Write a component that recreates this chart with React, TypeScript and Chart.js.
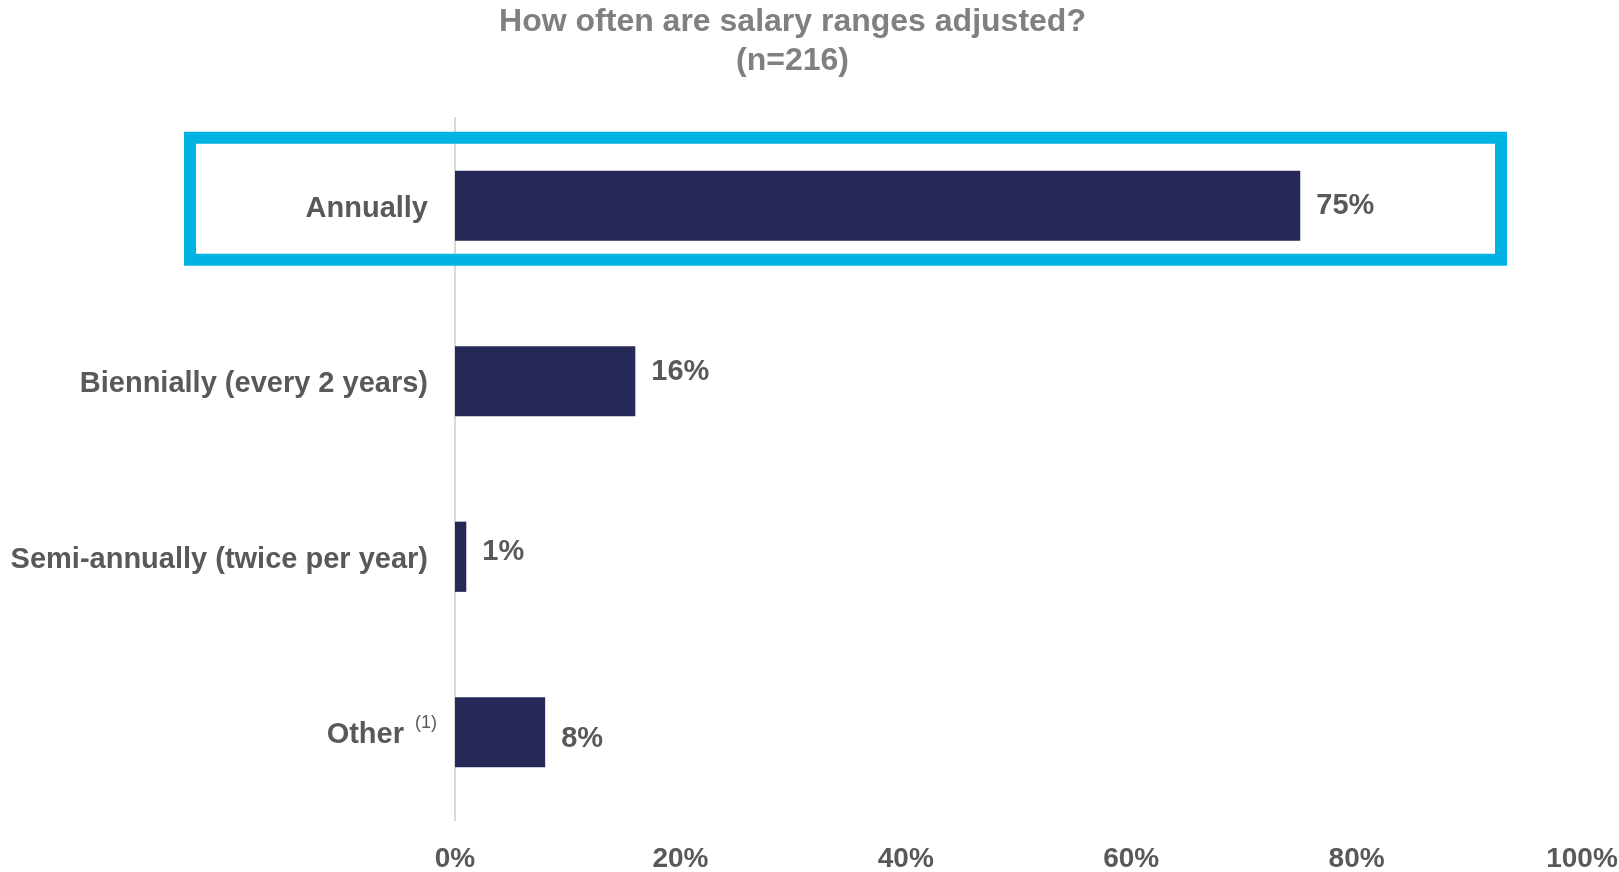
import React, { useEffect, useRef } from "react";
import { Chart, registerables } from "chart.js";

Chart.register(...registerables);

const titleLines = ["How often are salary ranges adjusted?", "(n=216)"];
const categories = [
  "Annually",
  "Biennially (every 2 years)",
  "Semi-annually (twice per year)",
  "Other",
];
const footnotes = ["", "", "", "(1)"];
const values = [75, 16, 1, 8];
const valueLabels = ["75%", "16%", "1%", "8%"];
const xMin = 0;
const xMax = 100;
const xStep = 20;
const highlightedIndex = 0;

const FONT = '"Liberation Sans", Arial, Helvetica, sans-serif';
const TEXT = "#595959";
const BAR = "#262857";
const HIGHLIGHT = "#00b3e3";
const labelYOffsets = [0, -9, -5, 7];

const titlePlugin = {
  id: "customTitle",
  afterDraw(chart: any) {
    const ctx = chart.ctx;
    ctx.save();
    ctx.fillStyle = "#808080";
    ctx.font = `bold 32px ${FONT}`;
    ctx.textAlign = "center";
    ctx.textBaseline = "middle";
    const cx = chart.width * 0.4895;
    ctx.fillText(titleLines[0], cx, 22);
    ctx.fillText(titleLines[1], cx, 61);
    ctx.restore();
  },
};

const highlightPlugin = {
  id: "highlightBox",
  afterDraw(chart: any) {
    const ctx = chart.ctx;
    const y = chart.scales.y;
    const area = chart.chartArea;
    const cy = y.getPixelForValue(highlightedIndex) - 7;
    ctx.save();
    ctx.strokeStyle = HIGHLIGHT;
    ctx.lineWidth = 12;
    ctx.strokeRect(area.left - 265, cy - 61, area.right - 81 - (area.left - 265), 122);
    ctx.restore();
  },
};

const categoryLabelPlugin = {
  id: "categoryLabels",
  afterDraw(chart: any) {
    const ctx = chart.ctx;
    const y = chart.scales.y;
    const left = chart.chartArea.left;
    ctx.save();
    ctx.fillStyle = TEXT;
    ctx.textBaseline = "middle";
    categories.forEach((c, i) => {
      const py = y.getPixelForValue(i);
      if (footnotes[i]) {
        ctx.font = `bold 29px ${FONT}`;
        ctx.textAlign = "right";
        ctx.fillText(c, left - 51, py + 3);
        ctx.font = `18px ${FONT}`;
        ctx.textAlign = "left";
        ctx.fillText(footnotes[i], left - 40, py - 9);
      } else {
        ctx.font = `bold 29px ${FONT}`;
        ctx.textAlign = "right";
        ctx.fillText(c, left - 27, py + 3);
      }
    });
    ctx.restore();
  },
};

const valueLabelPlugin = {
  id: "valueLabels",
  afterDatasetsDraw(chart: any) {
    const ctx = chart.ctx;
    const meta = chart.getDatasetMeta(0);
    ctx.save();
    ctx.fillStyle = TEXT;
    ctx.font = `bold 29px ${FONT}`;
    ctx.textAlign = "left";
    ctx.textBaseline = "middle";
    meta.data.forEach((bar: any, i: number) => {
      ctx.fillText(valueLabels[i], bar.x + 16, bar.y + labelYOffsets[i]);
    });
    ctx.restore();
  },
};

export default function App() {
  const canvasRef = useRef<HTMLCanvasElement | null>(null);

  useEffect(() => {
    if (!canvasRef.current) return;
    const chart = new Chart(canvasRef.current, {
      type: "bar",
      data: {
        labels: categories,
        datasets: [
          {
            data: values,
            backgroundColor: BAR,
            borderWidth: 0,
            barPercentage: 0.4,
            categoryPercentage: 1,
          },
        ],
      },
      options: {
        indexAxis: "y",
        animation: false,
        responsive: true,
        maintainAspectRatio: false,
        layout: { padding: { top: 118, right: 37, bottom: 0, left: 0 } },
        plugins: {
          legend: { display: false },
          title: { display: false },
          tooltip: { enabled: false },
        },
        scales: {
          x: {
            min: xMin,
            max: xMax,
            ticks: {
              stepSize: xStep,
              color: TEXT,
              font: { family: FONT, size: 28, weight: "bold" },
              padding: 22,
              maxRotation: 0,
              callback: (v: any) => `${v}%`,
            },
            grid: { display: false, drawTicks: false },
            border: { display: false },
            afterFit: (s: any) => {
              s.height = 52;
              s.paddingLeft = 0;
              s.paddingRight = 0;
            },
          },
          y: {
            ticks: { display: false },
            grid: { display: false, drawTicks: false },
            border: { display: true, color: "#d9d9d9", width: 2 },
            afterFit: (s: any) => {
              s.width = 455;
            },
          },
        },
      },
      plugins: [titlePlugin, highlightPlugin, categoryLabelPlugin, valueLabelPlugin],
    } as any);
    return () => chart.destroy();
  }, []);

  return (
    <div
      style={{
        position: "absolute",
        left: 0,
        top: 0,
        width: 1619,
        height: 872,
        background: "#fff",
      }}
    >
      <canvas ref={canvasRef} />
    </div>
  );
}
